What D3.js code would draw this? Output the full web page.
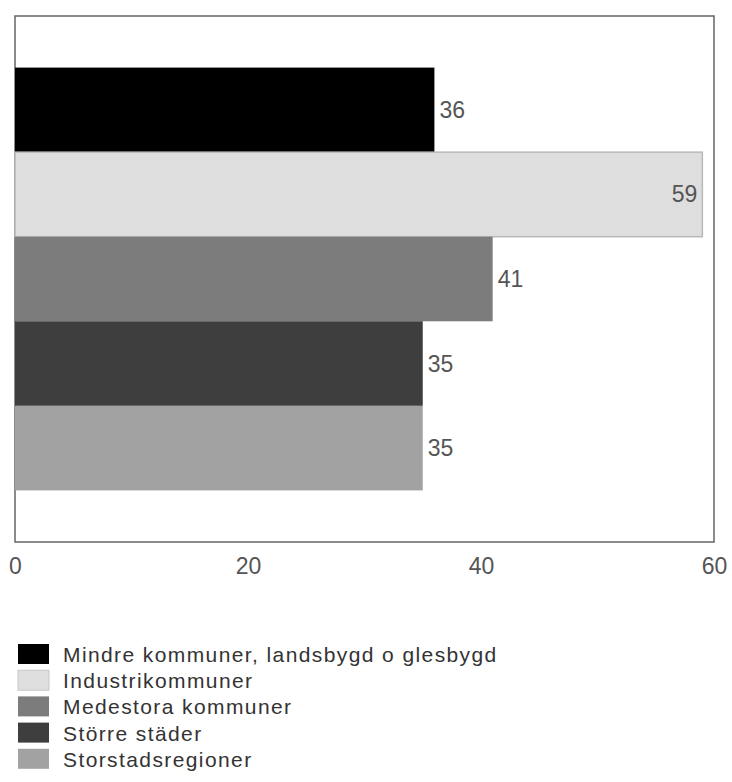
<!DOCTYPE html>
<html><head><meta charset="utf-8">
<script src="https://cdn.jsdelivr.net/npm/d3@7"></script>
<style>body{margin:0;background:#fff}svg{display:block}text{font-family:"Liberation Sans",Arial,sans-serif}</style>
</head><body>
<svg id="c" width="732" height="782"></svg>
<script>
const categories = ["Mindre kommuner, landsbygd o glesbygd","Industrikommuner","Medestora kommuner","Större städer","Storstadsregioner"];
const values = [36,59,41,35,35];
const colors = ["#000000","#dedede","#7c7c7c","#3e3e3e","#a2a2a2"];
const xTicks = [0,20,40,60];

const svg = d3.select("#c");
const L=15, R=714, T=16, B=542;
const x = d3.scaleLinear().domain([0,60]).range([L,R]);
const y = d3.scaleBand().domain(categories).range([T,B]).paddingInner(0).paddingOuter(0.61);

svg.append("rect").attr("x",L).attr("y",T).attr("width",R-L).attr("height",B-T)
  .attr("fill","#fff").attr("stroke","#666").attr("stroke-width",1.5);

svg.selectAll(".bar").data(categories).join("rect")
  .attr("x",x(0)).attr("y",d=>y(d)).attr("width",(d,i)=>x(values[i])-x(0)).attr("height",y.bandwidth())
  .attr("fill",(d,i)=>colors[i]).attr("stroke",(d,i)=>i===1?"#b8b8b8":"none").attr("stroke-width",1.5);

svg.selectAll(".lbl").data(categories).join("text")
  .attr("x",(d,i)=> i===1 ? x(values[i])-5 : x(values[i])+5)
  .attr("y",(d,i)=>y(d)+y.bandwidth()/2+8)
  .attr("text-anchor",(d,i)=>i===1?"end":"start")
  .attr("font-size",23).attr("fill","#555").text((d,i)=>values[i]);

const ax = svg.append("g").attr("transform",`translate(0,${B})`)
  .call(d3.axisBottom(x).tickValues(xTicks).tickSize(0).tickPadding(16));
ax.select(".domain").remove();
ax.selectAll("text").attr("font-size",23).attr("fill","#555").attr("font-family","Liberation Sans, Arial, sans-serif");

const lg = svg.append("g");
const rows = lg.selectAll("g").data(categories).join("g")
  .attr("transform",(d,i)=>`translate(18,${644+i*26.2})`);
rows.append("rect").attr("width",31).attr("height",20)
  .attr("fill",(d,i)=>colors[i]).attr("stroke",(d,i)=>i===1?"#c8c8c8":"none");
rows.append("text").attr("x",45).attr("y",18).attr("font-size",21).attr("letter-spacing",1.4).attr("fill","#333")
  .text(d=>d);
</script>
</body></html>
